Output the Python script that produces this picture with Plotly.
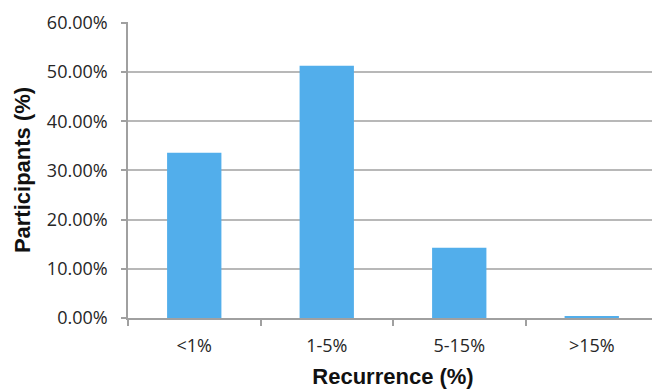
import plotly.graph_objects as go

categories = ["<1%", "1-5%", "5-15%", ">15%"]
participants = [33.6, 51.3, 14.3, 0.4]
y_ticks = [0, 10, 20, 30, 40, 50, 60]
y_tick_labels = ["0.00%", "10.00%", "20.00%", "30.00%", "40.00%", "50.00%", "60.00%"]

TICK_FONT = dict(size=18, family="Open Sans, Noto Sans, sans-serif", color="#262626")
TITLE_FONT = dict(size=22, family="Liberation Sans, Arial, sans-serif", color="#111111")

fig = go.Figure()
fig.add_trace(go.Bar(
    x=categories, y=participants, width=0.41,
    marker=dict(color="#52AEEB", line=dict(width=0)),
    hoverinfo="x+y",
))

fig.update_layout(
    width=652, height=381,
    margin=dict(l=120, r=2, t=11, b=71),
    paper_bgcolor="white", plot_bgcolor="white",
    showlegend=False,
)
fig.update_xaxes(
    type="category",
    showline=True, linecolor="#A0A0A0", linewidth=1.5,
    ticks="outside", tickson="boundaries", ticklen=6, tickcolor="#A0A0A0", tickwidth=1.5,
    tickfont=TICK_FONT,
    ticklabelstandoff=11,
    title=dict(text="<b>Recurrence (%)</b>", font=TITLE_FONT, standoff=12),
    showgrid=False,
)
fig.update_yaxes(
    range=[0, 60.2], tickvals=y_ticks, ticktext=y_tick_labels,
    showline=True, linecolor="#A0A0A0", linewidth=1.5,
    ticks="outside", ticklen=5, tickcolor="#A0A0A0", tickwidth=1.5,
    tickfont=TICK_FONT, ticklabeloverflow="allow",
    ticklabelstandoff=10,
    showgrid=True, gridcolor="#B8B8B8", gridwidth=1.5,
    zeroline=False,
    title=dict(text="<b>Participants (%)</b>", font=TITLE_FONT, standoff=10),
)

fig.write_html("out.html")
